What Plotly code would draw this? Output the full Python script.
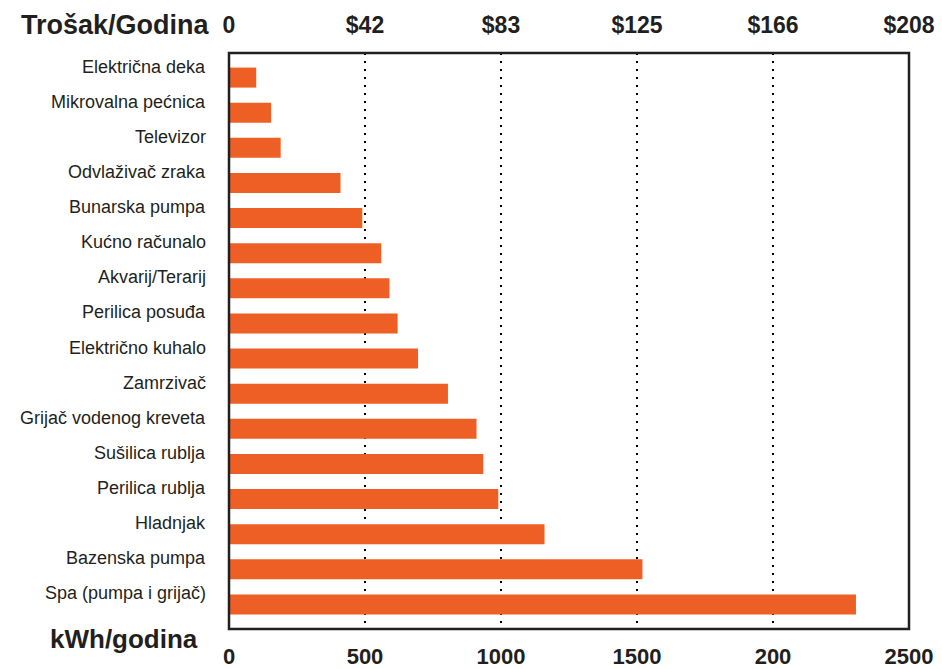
import plotly.graph_objects as go

# Annual electricity use per appliance (kWh/year), top to bottom
appliances = [
    "Električna deka", "Mikrovalna pećnica", "Televizor", "Odvlaživač zraka",
    "Bunarska pumpa", "Kućno računalo", "Akvarij/Terarij", "Perilica posuđa",
    "Električno kuhalo", "Zamrzivač", "Grijač vodenog kreveta", "Sušilica rublja",
    "Perilica rublja", "Hladnjak", "Bazenska pumpa", "Spa (pumpa i grijač)",
]
kwh_per_year = [100, 155, 190, 410, 490, 560, 590, 620,
                695, 805, 910, 935, 990, 1160, 1520, 2305]

# Axis ticks: energy on the bottom, matching cost per year on the top
kwh_ticks = [0, 500, 1000, 1500, 2000, 2500]
kwh_tick_labels = ["0", "500", "1000", "1500", "200", "2500"]
cost_tick_labels = ["0", "$42", "$83", "$125", "$166", "$208"]

BAR = "#EE5F25"
INK = "#231F20"

fig = go.Figure()
fig.add_trace(go.Bar(
    x=kwh_per_year, y=appliances, orientation="h",
    marker=dict(color=BAR, line=dict(width=0)),
    width=0.57, hoverinfo="x+y",
))
# invisible trace to activate the top (cost) axis
fig.add_trace(go.Scatter(x=[0, 2500], y=[appliances[0], appliances[0]], xaxis="x2",
                         mode="markers", marker=dict(opacity=0), hoverinfo="skip",
                         showlegend=False))

# appliance names sit a little above their bars
name_labels = [
    dict(text=name, xref="paper", yref="y", x=0, xshift=-21, y=name, yshift=11,
         xanchor="right", yanchor="middle", showarrow=False,
         font=dict(family="Liberation Sans", size=18, color=INK))
    for name in appliances
]

fig.update_layout(
    width=942, height=669,
    margin=dict(l=229, r=33, t=53, b=40),
    paper_bgcolor="white", plot_bgcolor="white",
    showlegend=False,
    xaxis=dict(
        range=[0, 2500], tickvals=kwh_ticks, ticktext=kwh_tick_labels,
        showgrid=True, gridcolor="black", gridwidth=2, griddash="2px,6px",
        zeroline=False, ticks="", automargin=False, ticklabelstandoff=12,
        tickfont=dict(family="Liberation Sans", size=22, color=INK, weight="bold"),
    ),
    xaxis2=dict(
        range=[0, 2500], tickvals=kwh_ticks, ticktext=cost_tick_labels,
        overlaying="x", side="top", showgrid=False, zeroline=False, ticks="",
        automargin=False, ticklabelstandoff=14,
        tickfont=dict(family="Liberation Sans", size=23, color=INK, weight="bold"),
    ),
    yaxis=dict(
        categoryorder="array", categoryarray=appliances, autorange=False,
        range=[15.7, -0.7], showgrid=False, zeroline=False, ticks="",
        showticklabels=False, automargin=False,
    ),
    shapes=[dict(type="rect", xref="paper", yref="paper", x0=0, x1=1, y0=0, y1=1,
                 line=dict(color=INK, width=2.5), fillcolor="rgba(0,0,0,0)", layer="above")],
    annotations=name_labels + [
        dict(text="<b>Trošak/Godina</b>", xref="paper", yref="paper",
             x=0, xshift=-17, y=1.0, yshift=28, xanchor="right", yanchor="middle",
             showarrow=False,
             font=dict(family="Liberation Sans", size=27, color=INK)),
        dict(text="<b>kWh/godina</b>", xref="paper", yref="paper",
             x=0, xshift=-29, y=0, yshift=-10, xanchor="right", yanchor="middle",
             showarrow=False,
             font=dict(family="Liberation Sans", size=26, color=INK)),
    ],
)

fig.write_html("out.html")
